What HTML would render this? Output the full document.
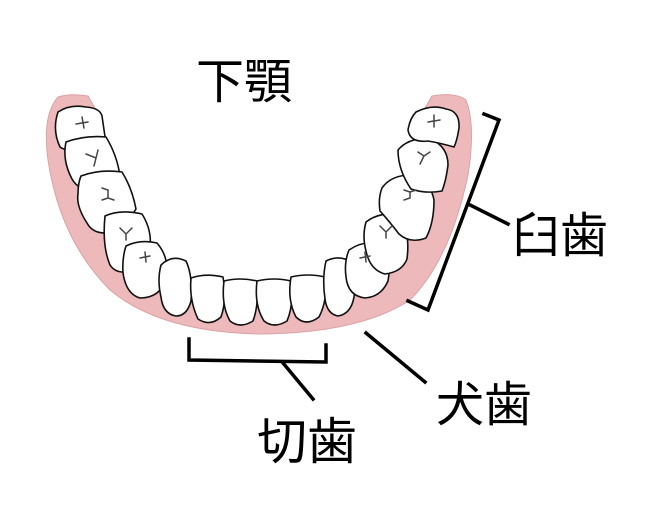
<!DOCTYPE html>
<html><head><meta charset="utf-8"><style>
html,body{margin:0;padding:0;background:#fff;width:664px;height:509px;overflow:hidden}
svg{display:block}
text{font-family:"Liberation Sans","Noto Sans CJK JP",sans-serif;fill:#000}
.t{fill:#fff;stroke:#111;stroke-width:1.6;stroke-linejoin:round}
.f{stroke:#444;stroke-width:1.5;fill:none;stroke-linecap:round}
</style></head><body>
<svg width="664" height="509" viewBox="0 0 664 509" xmlns="http://www.w3.org/2000/svg">
<path d="M58,97 Q70,93 88,96 L95,108 Q110,235 178,288 Q255,312 338,288 Q405,235 425,108 L432,96 Q455,92 466,100 Q476,125 468,175 Q450,260 410,300 Q360,333 260,334 Q160,332 110,290 Q60,240 48,160 Q42,115 58,97 Z" fill="#eeb9ba" stroke="#dba3a5" stroke-width="1"/>
<path class="t" d="M58,112 Q70,104 86,107 Q100,108 102,116 Q104,130 106,143 Q92,149 80,146 Q66,152 60,147 Q52,130 58,112Z"/>
<path class="t" d="M66,142 Q85,135 106,137 Q117,155 120,176 Q112,188 95,192 Q78,190 72,179 Q62,160 66,142Z"/>
<path class="t" d="M81,176 Q100,169 122,172 Q132,188 136,209 Q127,224 113,232 Q94,236 87,223 Q76,206 78,194 Q78,183 81,176Z"/>
<path class="t" d="M105,216 Q120,209 142,214 Q152,230 150,247 Q147,264 136,270 Q117,276 110,265 Q102,246 105,216Z"/>
<path class="t" d="M126,246 Q140,239 157,243 Q170,258 166,279 Q160,298 140,298 Q126,294 123,273 Q122,258 126,246Z"/>
<path class="t" d="M161,265 Q172,254 186,261 Q193,276 191,301 Q187,316 176,316 Q163,314 161,297 Q157,280 161,265Z"/>
<path class="t" d="M191,278 Q206,273 223,277 Q227,300 221,317 Q210,327 198,319 Q189,300 191,278Z"/>
<path class="t" d="M224,281 Q240,277 257,281 Q259,305 253,321 Q240,329 230,321 Q221,305 224,281Z"/>
<path class="t" d="M257,281 Q274,277 291,281 Q294,305 287,321 Q274,329 264,321 Q254,305 257,281Z"/>
<path class="t" d="M291,277 Q308,273 325,277 Q328,300 319,317 Q306,327 296,317 Q287,300 291,277Z"/>
<path class="t" d="M326,261 Q340,254 353,263 Q357,280 354,297 Q351,314 338,316 Q327,314 325,299 Q322,278 326,261Z"/>
<path class="t" d="M349,250 Q365,239 382,245 Q392,260 388,281 Q381,297 365,298 Q348,296 346,277 Q344,262 349,250Z"/>
<path class="t" d="M366,222 Q380,211 402,215 Q410,235 407,259 Q402,272 385,274 Q370,270 366,251 Q362,236 366,222Z"/>
<path class="t" d="M382,188 Q391,175 411,175 Q430,179 434,200 Q434,223 426,238 Q410,244 399,234 Q389,221 380,211 Q378,198 382,188Z"/>
<path class="t" d="M398,150 Q409,137 431,139 Q448,147 448,165 Q446,181 442,191 Q425,194 411,189 Q398,170 398,150Z"/>
<path class="t" d="M416,112 Q432,104 446,109 Q460,111 459,128 Q457,141 454,147 Q440,143 428,141 Q410,143 408,130 Q410,118 416,112Z"/>
<g class="f">
<path d="M76,124 L88,122 M82,117 L84,128"/>
<path d="M86,154 L96,158 L98,150 M96,158 L94,166"/>
<path d="M102,188 L108,190 L108,198 L114,200 M108,198 L102,200"/>
<path d="M120,228 L126,234 L132,228 M126,234 L126,240"/>
<path d="M140,258 L150,256 M145,252 L146,262"/>
<path d="M360,258 L370,256 M365,252 L366,262"/>
<path d="M380,226 L386,232 L392,226 M386,232 L386,238"/>
<path d="M404,190 L410,192 L410,198 L404,200 M410,192 L416,190"/>
<path d="M418,152 L424,156 L430,152 M424,156 L420,164"/>
<path d="M428,122 L440,120 M434,115 L434,127"/>
</g>
<g stroke="#000" stroke-width="3.5" fill="none" stroke-linecap="square">
<path d="M484,114 L499,120 L428,310 L408,301"/>
<path d="M470,205 L508,224"/>
<path d="M189,339 L189,360 L326,362 L326,345"/>
<path d="M283,363 L313,399"/>
<path d="M366,333 L425,382"/>
</g>
<text x="196" y="98" font-size="48">下顎</text>
<text x="512" y="252" font-size="48">臼歯</text>
<text x="436" y="421" font-size="48">犬歯</text>
<text x="257" y="459" font-size="50">切歯</text>
</svg>
</body></html>
